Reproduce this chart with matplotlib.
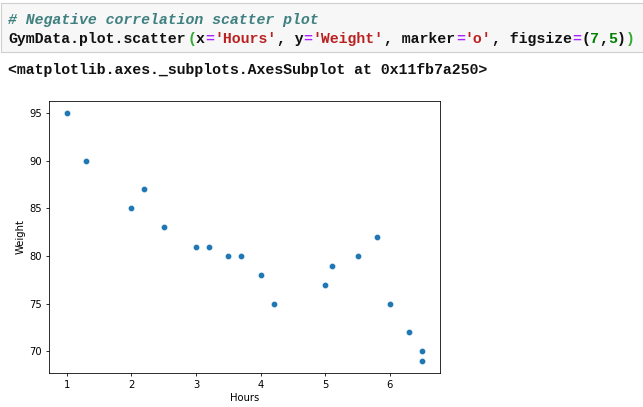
import matplotlib.pyplot as plt
from matplotlib.patches import Rectangle

# Gym data
hours = [1, 1.3, 2, 2.2, 2.5, 3, 3.2, 3.5, 3.7, 4, 4.2, 5, 5.1, 5.5, 5.8, 6, 6.3, 6.5, 6.5]
weight = [95, 90, 85, 87, 83, 81, 81, 80, 80, 78, 75, 77, 79, 80, 82, 75, 72, 70, 69]

fig = plt.figure(figsize=(6.43, 4.07), dpi=100)

# notebook cell area, drawn in pixel coords
bg = fig.add_axes([0, 0, 1, 1])
bg.set_xlim(0, 643)
bg.set_ylim(407, 0)
bg.axis('off')
bg.add_patch(Rectangle((0.5, 3), 642, 49, facecolor='#f7f7f7', edgecolor='#cfcfcf', lw=0.8))

mono = 'Liberation Mono'
fs = 10.75
cw = fs / 72 * 100 * 0.6  # char width in px

def code_line(parts, x0, y, weight='bold'):
    i = 0
    for txt, col, style in parts:
        bg.text(x0 + i * cw, y, txt, color=col, fontsize=fs, family=mono,
                fontweight=weight, fontstyle=style, va='baseline', ha='left')
        i += len(txt)

k, s, p, g, grn = '#111111', '#ba2121', '#aa22ff', '#008000', '#33aa33'
code_line([('# Negative correlation scatter plot', '#408080', 'italic')], 8, 24)
code_line([('GymData.plot.scatter', k, 'normal'), ('(', grn, 'normal'), ('x', k, 'normal'),
           ('=', p, 'normal'), ("'Hours'", s, 'normal'), (', y', k, 'normal'),
           ('=', p, 'normal'), ("'Weight'", s, 'normal'), (', marker', k, 'normal'),
           ('=', p, 'normal'), ("'o'", s, 'normal'), (', figsize', k, 'normal'),
           ('=', p, 'normal'), ('(', k, 'normal'), ('7', g, 'normal'), (',', k, 'normal'),
           ('5', g, 'normal'), (')', k, 'normal'), (')', grn, 'normal')], 8, 43)
bg.text(8, 74, '<matplotlib.axes._subplots.AxesSubplot at 0x11fb7a250>', color=k,
        fontsize=10.7, family=mono, fontweight='bold', va='baseline', ha='left')

# Scatter plot
ax = fig.add_axes([49 / 643, 34 / 407, 391 / 643, 272 / 407])
ax.scatter(hours, weight, s=20, color='#1f77b4', marker='o', edgecolors='white', linewidths=0.3)
ax.set_xlabel('Hours', fontsize=7.2, labelpad=2.5)
ax.set_ylabel('Weight', fontsize=7.2, labelpad=2.5)
ax.tick_params(labelsize=7.2, length=2.5, width=0.58, pad=2.5)
for sp in ax.spines.values():
    sp.set_linewidth(0.58)

plt.savefig('out.png', dpi=100)
